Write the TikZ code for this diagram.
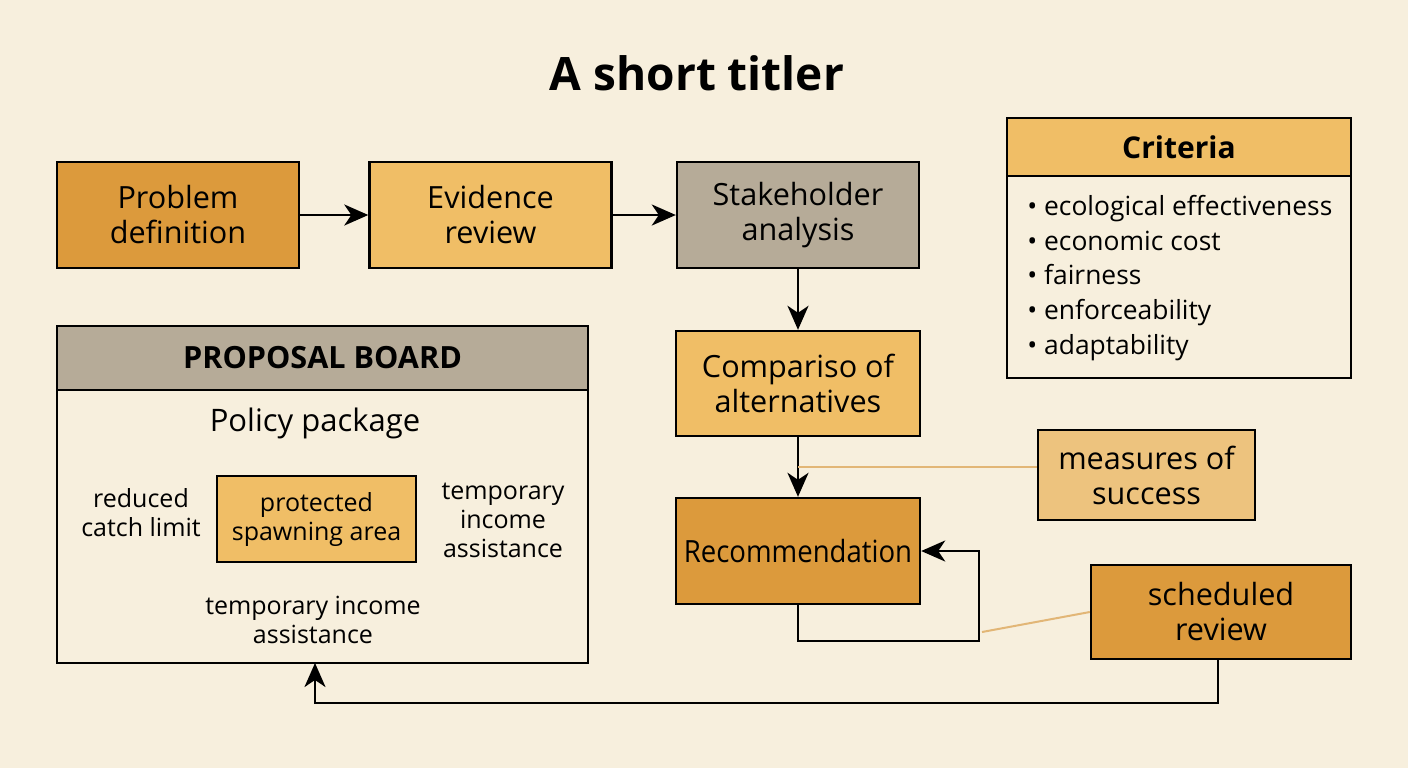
\documentclass[tikz,border=0pt]{standalone}
\usepackage{fontspec}
\setmainfont{Open Sans}
\newfontfamily\narrowfont{Open Sans}[FakeStretch=0.9]
\usetikzlibrary{arrows.meta,calc}

\definecolor{paper}{HTML}{F7EFDD}
\definecolor{deeporange}{HTML}{DC9A3C}
\definecolor{softorange}{HTML}{F0BE66}
\definecolor{paleorange}{HTML}{EDC37E}
\definecolor{stone}{HTML}{B6AB98}
\definecolor{tapline}{HTML}{E2B676}

\tikzset{
	stage/.style={draw, line width=1.2pt, align=center, font=\fontsize{15.3}{17.5}\selectfont,
		minimum width=121pt, minimum height=53pt, inner sep=2pt},
	flow/.style={line width=1.2pt, -{Stealth[length=12pt, width=10.5pt, inset=3.5pt]}},
	tap/.style={line width=1pt, draw=tapline},
	item/.style={align=center, font=\fontsize{12.5}{14.5}\selectfont}
}

\begin{document}
\begin{tikzpicture}[x=0.5pt, y=-0.5pt]
	\fill[paper] (0,0) rectangle (1408,768);
	\useasboundingbox (0,0) rectangle (1408,768);

	\node[font=\fontsize{23}{26}\selectfont\bfseries] (title) at (697,73) {A short titler};

	% top row
	\node[stage, fill=deeporange] (problem) at (178,215) {Problem\\definition};
	\node[stage, fill=softorange] (evidence) at (490.5,215) {Evidence\\review};
	\node[stage, fill=stone] (stake) at (798,215) {Stakeholder\\analysis};

	% middle column
	\node[stage, fill=softorange, minimum width=122pt, minimum height=52.5pt] (compare) at (798,383.5) {Compariso of\\alternatives};
	\node[stage, fill=deeporange, minimum width=122pt, font=\narrowfont\fontsize{15.3}{17.5}\selectfont] (recommend) at (798,551) {Recommendation};
	\node[stage, fill=paleorange, minimum width=108.5pt, minimum height=45pt] (measures) at (1146.5,475) {measures of\\success};
	\node[stage, fill=deeporange, minimum width=130pt, minimum height=47pt] (sched) at (1221,612) {scheduled\\review};

	% criteria panel
	\node[draw, line width=1.2pt, fill=paper, minimum width=172pt, minimum height=130pt] (criteria) at (1179,248) {};
	\node[draw, line width=1.2pt, fill=softorange, minimum width=172pt, minimum height=29pt, anchor=north,
		font=\fontsize{15}{17}\selectfont\bfseries] (critHead) at (criteria.north) {Criteria};
	\node[anchor=north west, align=left, inner sep=0pt, font=\fontsize{13.2}{17.3}\selectfont] (critList) at (1027,195)
		{\textbullet\ ecological effectiveness\\ \textbullet\ economic cost\\ \textbullet\ fairness\\ \textbullet\ enforceability\\ \textbullet\ adaptability};

	% proposal board
	\node[draw, line width=1.2pt, fill=paper, minimum width=265.5pt, minimum height=168.5pt] (board) at (322.5,494.5) {};
	\node[draw, line width=1.2pt, fill=stone, minimum width=265.5pt, minimum height=32pt, anchor=north,
		font=\fontsize{15.3}{17}\selectfont\bfseries] (boardHead) at (board.north) {PROPOSAL BOARD};
	\node[font=\fontsize{15.5}{17}\selectfont] (package) at (315,423) {Policy package};
	\node[stage, fill=softorange, minimum width=99.5pt, minimum height=43pt, font=\fontsize{12.5}{14.5}\selectfont] (spawn) at (316.5,519) {protected\\spawning area};
	\node[item] (catch) at (141,513) {reduced\\catch limit};
	\node[item] (incomeR) at (503,520) {temporary\\income\\assistance};
	\node[item] (incomeB) at (313,620) {temporary income\\assistance};

	\coordinate (loopR) at (979,641);
	\coordinate (backR) at (1218,703);
	\coordinate (boardIn) at (315,663);
	\coordinate (mTap) at (798,467);
	\coordinate (sTap) at (982,632);

	% connectors
	\draw[flow] (problem) -- (evidence);
	\draw[flow] (evidence) -- (stake);
	\draw[flow] (stake) -- (compare);
	\draw[flow] (compare) -- (recommend);
	\draw[flow] (recommend.south) |- (loopR) |- (recommend.east);
	\draw[flow] (sched.south -| backR) |- (backR -| boardIn) -- (boardIn);

	\draw[tap] (mTap) -- (mTap -| measures.west);
	\draw[tap] (sTap) -- (sched.west);
\end{tikzpicture}
\end{document}
